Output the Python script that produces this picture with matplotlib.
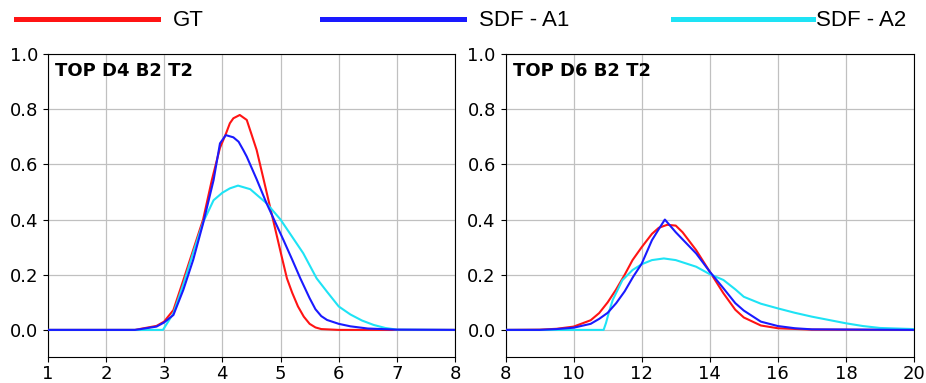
import matplotlib
matplotlib.use("Agg")
import matplotlib.pyplot as plt

# left panel: TOP D4 B2 T2
d4_gt_x = [1, 2.5, 2.6, 2.87, 3.0, 3.16, 3.33, 3.5, 3.67, 3.82, 3.96, 4.06, 4.13, 4.19, 4.3,
           4.42, 4.5, 4.59, 4.7, 4.82, 4.9, 5.02, 5.11, 5.2, 5.3, 5.4, 5.5, 5.6, 5.7, 6.0, 8]
d4_gt_y = [0, 0, 0.004, 0.0145, 0.03, 0.072, 0.18, 0.29, 0.40, 0.543, 0.66, 0.71, 0.749, 0.767, 0.779,
           0.761, 0.71, 0.652, 0.554, 0.446, 0.374, 0.266, 0.187, 0.135, 0.085, 0.048, 0.022, 0.009, 0.003, 0, 0]
d4_a1_x = [1, 2.5, 2.6, 2.87, 3.0, 3.16, 3.33, 3.5, 3.67, 3.85, 3.96, 4.06, 4.19, 4.28, 4.36,
           4.42, 4.59, 4.76, 5.05, 5.2, 5.34, 5.5, 5.6, 5.7, 5.8, 6.0, 6.2, 6.5, 7.0, 8]
d4_a1_y = [0, 0, 0.003, 0.012, 0.027, 0.054, 0.145, 0.254, 0.386, 0.543, 0.676, 0.706, 0.698, 0.682, 0.652,
           0.628, 0.546, 0.459, 0.326, 0.255, 0.187, 0.115, 0.075, 0.05, 0.036, 0.022, 0.013, 0.005, 0.001, 0]
d4_a2_x = [1, 2.98, 3.16, 3.33, 3.5, 3.67, 3.85, 4.0, 4.13, 4.27, 4.48, 4.76, 5.0, 5.16, 5.39,
           5.62, 5.8, 6.0, 6.2, 6.4, 6.6, 6.8, 7.0, 8]
d4_a2_y = [0, 0, 0.06, 0.165, 0.28, 0.39, 0.47, 0.497, 0.513, 0.523, 0.51, 0.459, 0.40, 0.35, 0.278,
           0.187, 0.138, 0.085, 0.056, 0.034, 0.018, 0.007, 0.001, 0]

# right panel: TOP D6 B2 T2
d6_gt_x = [8, 9, 9.5, 10, 10.5, 10.75, 11, 11.24, 11.5, 11.73, 12, 12.3, 12.5, 12.75, 13,
           13.2, 13.6, 14, 14.4, 14.75, 15, 15.5, 16, 17, 20]
d6_gt_y = [0, 0.001, 0.004, 0.012, 0.035, 0.061, 0.10, 0.145, 0.20, 0.253, 0.30, 0.348, 0.37, 0.381, 0.378,
           0.354, 0.289, 0.211, 0.133, 0.073, 0.045, 0.016, 0.006, 0.001, 0]
d6_a1_x = [8, 9, 9.5, 10, 10.5, 10.75, 11, 11.25, 11.5, 11.75, 12, 12.3, 12.5, 12.68, 13,
           13.6, 14, 14.4, 14.75, 15, 15.5, 16, 16.5, 17, 20]
d6_a1_y = [0, 0, 0.003, 0.008, 0.022, 0.04, 0.062, 0.097, 0.14, 0.193, 0.24, 0.325, 0.365, 0.40, 0.354,
           0.277, 0.211, 0.151, 0.097, 0.07, 0.03, 0.014, 0.006, 0.002, 0]
d6_a2_x = [8, 10.88, 10.95, 11.05, 11.15, 11.43, 11.73, 12, 12.3, 12.65, 13, 13.6, 14, 14.4,
           14.75, 15, 15.5, 16, 16.5, 17, 17.5, 18, 18.5, 19, 20]
d6_a2_y = [0, 0, 0.025, 0.07, 0.109, 0.18, 0.217, 0.238, 0.253, 0.259, 0.253, 0.229, 0.202, 0.181,
           0.147, 0.12, 0.095, 0.078, 0.062, 0.048, 0.036, 0.024, 0.014, 0.007, 0.003]

labels = ["GT", "SDF - A1", "SDF - A2"]
colors = ["#ff1414", "#1a1aff", "#1ee3f5"]
panels = [
    ("TOP D4 B2 T2", (1, 8), range(1, 9),
     [(d4_gt_x, d4_gt_y), (d4_a1_x, d4_a1_y), (d4_a2_x, d4_a2_y)]),
    ("TOP D6 B2 T2", (8, 20), range(8, 21, 2),
     [(d6_gt_x, d6_gt_y), (d6_a1_x, d6_a1_y), (d6_a2_x, d6_a2_y)]),
]
zorders = [3, 5, 4]

fig = plt.figure(figsize=(9.26, 3.83), dpi=100)
rects = [[0.0515, 0.0666, 0.440, 0.7924], [0.546, 0.0666, 0.441, 0.7924]]

handles = []
for rect, (title, xlim, xticks, series) in zip(rects, panels):
    ax = fig.add_axes(rect)
    handles = []
    for (xs, ys), c, lab, z in zip(series, colors, labels, zorders):
        h, = ax.plot(xs, ys, color=c, lw=1.5, label=lab, zorder=z)
        handles.append(h)
    ax.set_xlim(*xlim)
    ax.set_ylim(-0.1, 1.0)
    ax.set_xticks(list(xticks))
    ax.set_yticks([0.0, 0.2, 0.4, 0.6, 0.8, 1.0])
    ax.tick_params(labelsize=13)
    ax.tick_params(axis="x", pad=2)
    ax.grid(True, color="#c0c0c0", lw=0.9)
    ax.set_axisbelow(True)
    ax.text(0.018, 0.975, title, transform=ax.transAxes, ha="left", va="top",
            fontsize=13, fontweight="bold")

# one legend per entry, spread over the top like the original
leg_x = [16 / 926, 322 / 926, 673 / 926]
leg_len = [6.37, 6.37, 6.3]
leg_pad = [0.7, 0.7, 0.15]
for h, lab, x, hl, tp in zip(handles, labels, leg_x, leg_len, leg_pad):
    leg = fig.legend([h], [lab], loc="center left", bbox_to_anchor=(x, 1 - 21 / 383),
                     frameon=False, borderaxespad=0, borderpad=0,
                     handlelength=hl, handletextpad=tp,
                     prop={"family": "Liberation Sans", "size": 16})
    for line in leg.get_lines():
        line.set_linewidth(3.6)

fig.savefig("out.png", dpi=100)
